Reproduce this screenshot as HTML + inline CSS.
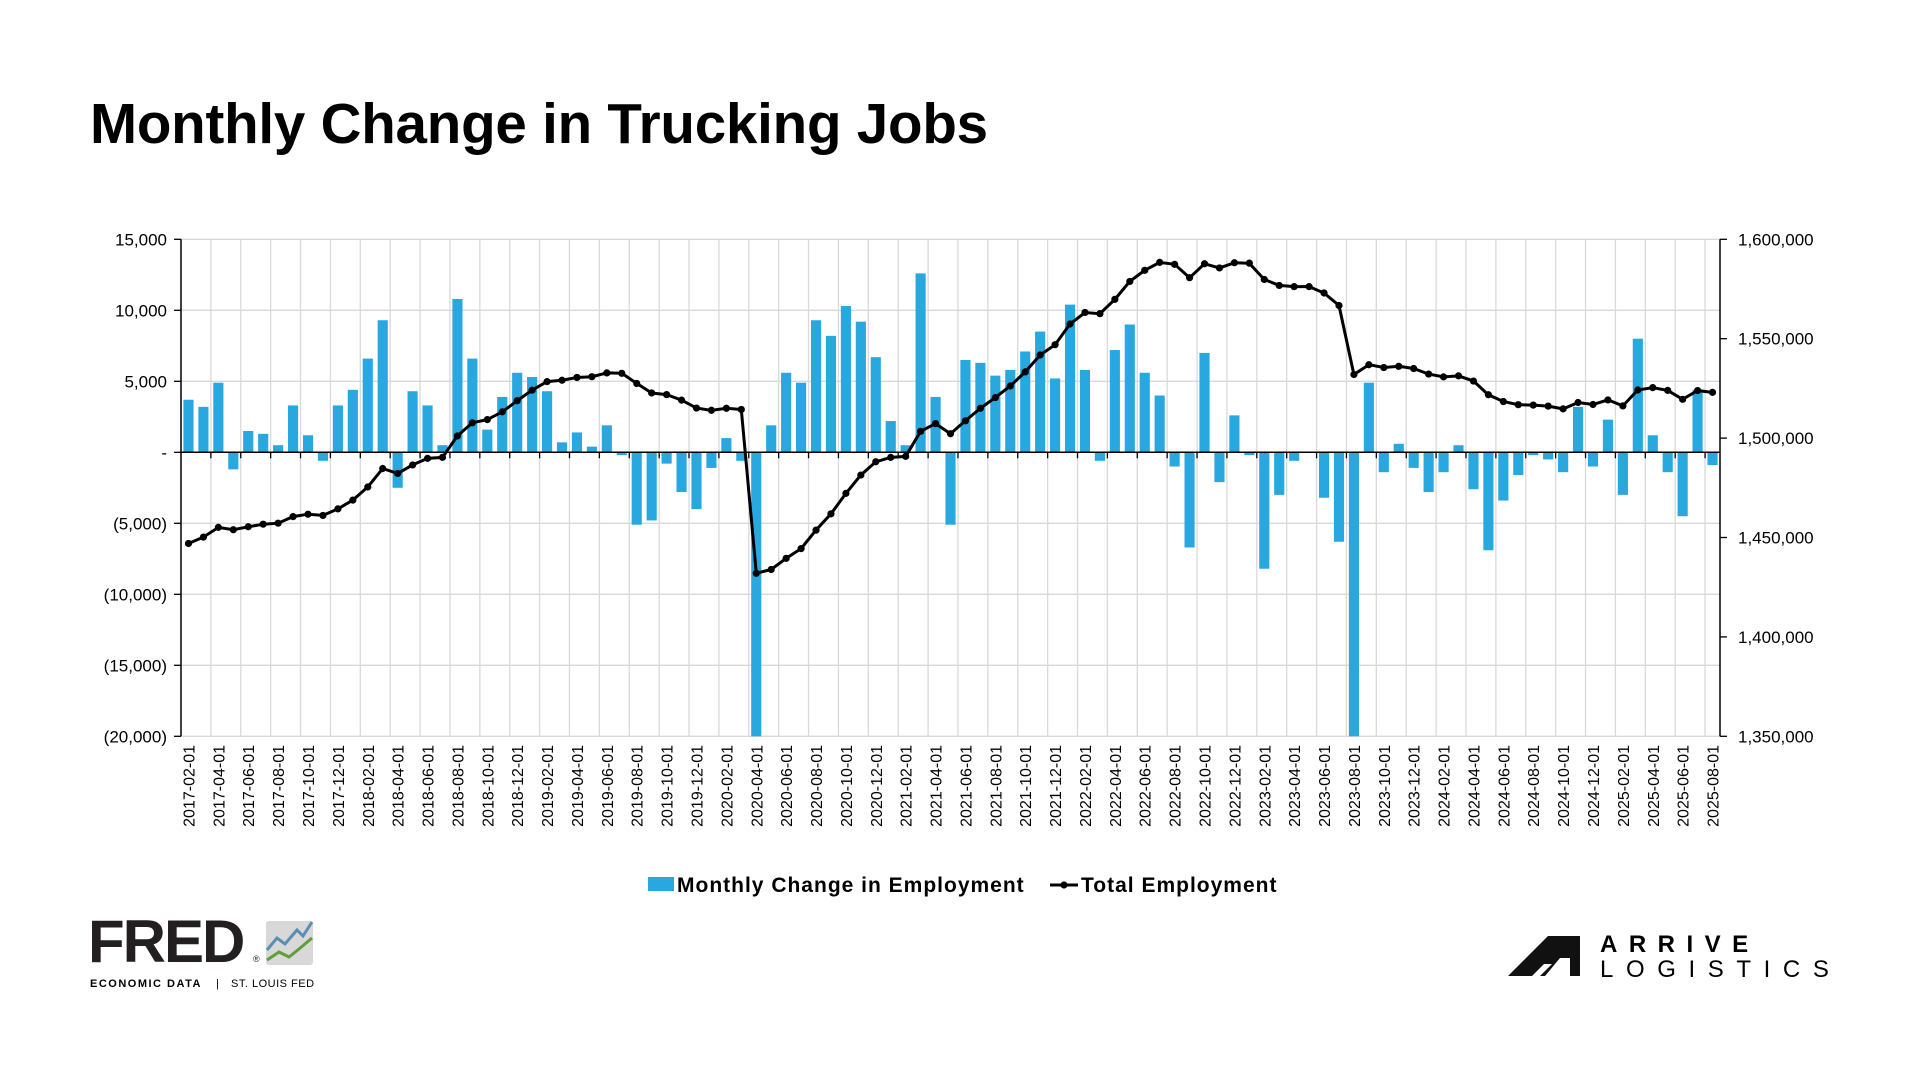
<!DOCTYPE html>
<html><head><meta charset="utf-8">
<style>
html,body{margin:0;padding:0;background:#fff;width:1920px;height:1080px;overflow:hidden;font-family:"Liberation Sans",sans-serif;}
#title{position:absolute;left:90px;top:91px;font-size:56.5px;font-weight:bold;color:#000;letter-spacing:-0.2px;}
svg{position:absolute;left:0;top:0;}
</style></head><body>
<div id="title">Monthly Change in Trucking Jobs</div>
<svg id="c" width="1920" height="1080" xmlns="http://www.w3.org/2000/svg"></svg>
<script>
const bars=[3700,3200,4900,-1200,1500,1300,500,3300,1200,-600,3300,4400,6600,9300,-2500,4300,3300,500,10800,6600,1600,3900,5600,5300,4300,700,1400,400,1900,-200,-5100,-4800,-800,-2800,-4000,-1100,1000,-600,-85000,1900,5600,4900,9300,8200,10300,9200,6700,2200,500,12600,3900,-5100,6500,6300,5400,5800,7100,8500,5200,10400,5800,-600,7200,9000,5600,4000,-1000,-6700,7000,-2100,2600,-200,-8200,-3000,-600,0,-3200,-6300,-34000,4900,-1400,600,-1100,-2800,-1400,500,-2600,-6900,-3400,-1600,-200,-500,-1400,3200,-1000,2300,-3000,8000,1200,-1400,-4500,4400,-900];
const N=bars.length, L=181, R=1720, T=239.3, B=736.3, slot=(R-L)/N;
const yl=v=>452.3-v*14.2/1000;
const yr=v=>T+(1600000-v)/250000*(B-T);
let s='';
for(let v=15000;v>=-20000;v-=5000){s+=`<line x1="${L}" x2="${R}" y1="${yl(v)}" y2="${yl(v)}" stroke="#d9d9d9" stroke-width="1.3"/>`;}
for(let i=2;i<N;i+=2){const x=L+i*slot;s+=`<line x1="${x}" x2="${x}" y1="${T}" y2="${B}" stroke="#d9d9d9" stroke-width="1.3"/>`;}
bars.forEach((v,i)=>{let vv=Math.max(v,-20000);const x=L+i*slot+2.4;const y0=yl(0),y1=yl(vv);s+=`<rect x="${x}" y="${Math.min(y0,y1)}" width="${slot-4.8}" height="${Math.abs(y1-y0)}" fill="#29a8e0"/>`;});
s+=`<line x1="${L}" x2="${L}" y1="${T}" y2="${B}" stroke="#000" stroke-width="1.5"/>`;
s+=`<line x1="${R}" x2="${R}" y1="${T}" y2="${B}" stroke="#000" stroke-width="1.5"/>`;
s+=`<line x1="${L}" x2="${R}" y1="${yl(0)}" y2="${yl(0)}" stroke="#000" stroke-width="1.5"/>`;
for(let i=2;i<N;i+=2){const x=L+i*slot;s+=`<line x1="${x}" x2="${x}" y1="${yl(0)}" y2="${yl(0)+6}" stroke="#000" stroke-width="1.3"/>`;}
const lt={15000:'15,000',10000:'10,000',5000:'5,000',0:'-',"-5000":'(5,000)',"-10000":'(10,000)',"-15000":'(15,000)',"-20000":'(20,000)'};
for(let v=15000;v>=-20000;v-=5000){const y=yl(v);s+=`<line x1="${L-7}" x2="${L}" y1="${y}" y2="${y}" stroke="#000" stroke-width="1.3"/><text x="${L-14}" y="${y+6}" font-size="17" text-anchor="end">${lt[v]}</text>`;}
for(let v=1600000;v>=1350000;v-=50000){const y=yr(v);s+=`<line x1="${R}" x2="${R+7}" y1="${y}" y2="${y}" stroke="#000" stroke-width="1.3"/><text x="${R+18}" y="${y+6}" font-size="17">${v.toLocaleString('en-US')}</text>`;}
let tot=[];let cur=1447000;
bars.forEach((v,i)=>{if(i>0)cur+=v;tot.push(cur);});
const fix=(idx,val)=>{const d=val-tot[idx];for(let j=idx;j<N;j++)tot[j]+=d;};
fix(38,1432000);fix(78,1532000);
let pts=tot.map((v,i)=>`${(L+(i+0.5)*slot).toFixed(1)},${yr(v).toFixed(1)}`);
s+=`<polyline points="${pts.join(' ')}" fill="none" stroke="#000" stroke-width="3"/>`;
tot.forEach((v,i)=>{s+=`<circle cx="${L+(i+0.5)*slot}" cy="${yr(v)}" r="3.6" fill="#000"/>`;});
for(let i=0;i<N;i+=2){const y=2017+Math.floor((i+1)/12);const m=((i+1)%12)+1;const lab=`${y}-${String(m).padStart(2,'0')}-01`;const x=L+(i+0.5)*slot+6;s+=`<text transform="translate(${x},745) rotate(-90)" font-size="16" text-anchor="end">${lab}</text>`;}
s+=`<rect x="648" y="877" width="26" height="14" fill="#29a8e0"/><text x="677" y="892" font-size="21" font-weight="bold" letter-spacing="1">Monthly Change in Employment</text>`;
s+=`<line x1="1050" x2="1078" y1="885" y2="885" stroke="#000" stroke-width="3"/><circle cx="1064" cy="885" r="3.6"/><text x="1081" y="892" font-size="21" font-weight="bold" letter-spacing="1">Total Employment</text>`;
s+=`<text x="88" y="962" font-size="60" font-weight="bold" letter-spacing="-2" fill="#231f20">FRED</text>`;
s+=`<text x="253" y="962" font-size="9" fill="#231f20">®</text>`;
s+=`<rect x="266" y="921" width="47" height="44" rx="3" fill="#d8d8d8"/><polyline points="267,950 277,938 285,944 297,930 303,936 312,922" fill="none" stroke="#5b8fb0" stroke-width="3"/><polyline points="267,960 279,952 289,957 299,949 312,938" fill="none" stroke="#5f9e3a" stroke-width="3"/>`;
s+=`<text x="90" y="987" font-size="11" font-weight="bold" letter-spacing="1.5">ECONOMIC DATA</text><text x="216" y="987" font-size="11">|</text><text x="231" y="987" font-size="11" letter-spacing="0.5">ST. LOUIS FED</text>`;
s+=`<polygon points="1508,976 1548,936 1580,936 1580,976 1570,976 1570,958 1560,958 1545,976" fill="#111"/><polygon points="1532,976 1544,964 1552,964 1540,976" fill="#fff"/>`;
s+=`<text x="1600" y="952" font-size="24" font-weight="bold" letter-spacing="11.5">ARRIVE</text><text x="1600" y="977" font-size="24" letter-spacing="12.6">LOGISTICS</text>`;
document.getElementById('c').innerHTML=s;
</script>
</body></html>
